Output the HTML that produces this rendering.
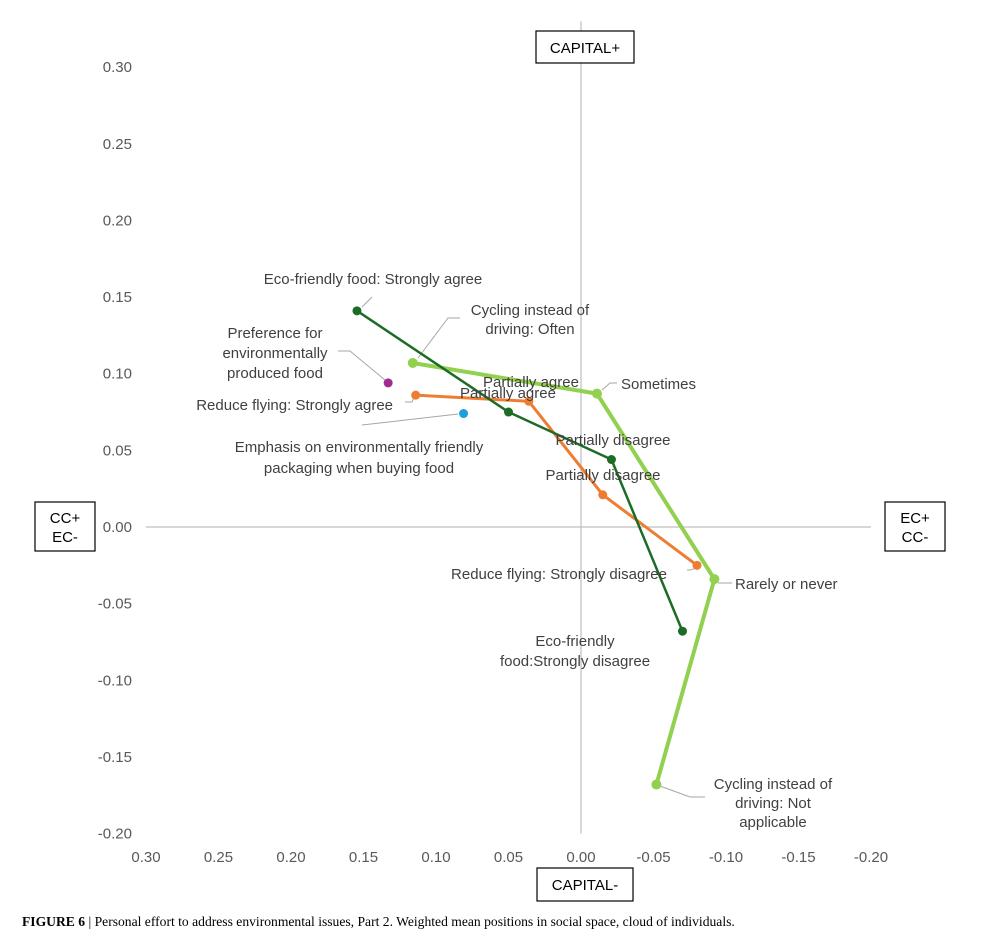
<!DOCTYPE html>
<html><head><meta charset="utf-8"><style>
body{margin:0;background:#fff;}
svg text{font-family:"Liberation Sans",sans-serif;}
</style></head><body>
<svg id="chart" width="1000" height="940" viewBox="0 0 1000 940" xmlns="http://www.w3.org/2000/svg">
<g id="axes"></g>
<g id="leaders" stroke="#a6a6a6" stroke-width="1" fill="none"></g>
<g id="series"></g>
<g id="labels" font-size="15" fill="#404040"></g>
<g><rect x="536" y="31" width="98" height="32" fill="#fff" stroke="#000" stroke-width="1.2"/><text x="585" y="53" text-anchor="middle" font-size="15">CAPITAL+</text></g>
<g><rect x="537" y="868" width="96" height="33" fill="#fff" stroke="#000" stroke-width="1.2"/><text x="585" y="890" text-anchor="middle" font-size="15">CAPITAL-</text></g>
<g><rect x="35" y="502" width="60" height="49" fill="#fff" stroke="#000" stroke-width="1.2"/><text x="65" y="523" text-anchor="middle" font-size="15">CC+</text><text x="65" y="542" text-anchor="middle" font-size="15">EC-</text></g>
<g><rect x="885" y="502" width="60" height="49" fill="#fff" stroke="#000" stroke-width="1.2"/><text x="915" y="523" text-anchor="middle" font-size="15">EC+</text><text x="915" y="542" text-anchor="middle" font-size="15">CC-</text></g>
<text x="22" y="926" font-size="13.6" style="font-family:'Liberation Serif',serif"><tspan font-weight="bold">FIGURE 6</tspan>  |  Personal effort to address environmental issues, Part 2. Weighted mean positions in social space, cloud of individuals.</text>
</svg>
<script>
const xTicks=[0.30,0.25,0.20,0.15,0.10,0.05,0.00,-0.05,-0.10,-0.15,-0.20];
const yTicks=[0.30,0.25,0.20,0.15,0.10,0.05,0.00,-0.05,-0.10,-0.15,-0.20];
const ecoX=[0.1545,0.050,-0.021,-0.070];
const ecoY=[0.141,0.075,0.044,-0.068];
const cycX=[0.116,-0.011,-0.092,-0.052];
const cycY=[0.107,0.087,-0.034,-0.168];
const flyX=[0.114,0.036,-0.015,-0.080];
const flyY=[0.086,0.082,0.021,-0.025];
const prefX=[0.133];const prefY=[0.094];
const packX=[0.081];const packY=[0.074];
const NS='http://www.w3.org/2000/svg';
function sx(v){return 581-v*1450;}
function sy(v){return 527-v*1533;}
function mk(tag,attrs,parent){const e=document.createElementNS(NS,tag);for(const k in attrs)e.setAttribute(k,attrs[k]);parent.appendChild(e);return e;}
const axes=document.getElementById('axes');
let l=mk('line',{x1:sx(0.30),x2:sx(-0.20),y1:sy(0),y2:sy(0),stroke:'#bfbfbf','stroke-width':1.2},axes);


l=mk('line',{x1:sx(0),x2:sx(0),y1:sy(0.33),y2:sy(-0.20),stroke:'#bfbfbf','stroke-width':1.2},axes);


xTicks.forEach(v=>{const t=mk('text',{x:sx(v),y:862,'text-anchor':'middle','font-size':15,fill:'#595959'},axes);t.textContent=v.toFixed(2);

});
yTicks.forEach(v=>{const t=mk('text',{x:132,y:sy(v)+5,'text-anchor':'end','font-size':15,fill:'#595959'},axes);t.textContent=v.toFixed(2);

});
const series=document.getElementById('series');
function drawSeries(xs,ys,color,w,r,name){
  if(xs.length>1){const p=mk('polyline',{points:xs.map((x,i)=>sx(x)+','+sy(ys[i])).join(' '),fill:'none',stroke:color,'stroke-width':w},series);
  
  }
  xs.forEach((x,i)=>{const c=mk('circle',{cx:sx(x),cy:sy(ys[i]),r:r,fill:color},series);
  
  });
}
drawSeries(cycX,cycY,'#92d050',4,5,'cycling');
drawSeries(flyX,flyY,'#ed7d31',3,4.5,'reduce-flying');
drawSeries(ecoX,ecoY,'#1e6b26',2.5,4.5,'eco-food');
drawSeries(prefX,prefY,'#a02b93',0,4.5,'preference-env-food');
drawSeries(packX,packY,'#1aa0dc',0,4.5,'packaging');
const labels=[
 ['Eco-friendly food: Strongly agree',373,284,'middle'],
 ['Cycling instead of',530,315,'middle'],['driving: Often',530,334,'middle'],
 ['Preference for',275,338,'middle'],['environmentally',275,358,'middle'],['produced food',275,378,'middle'],
 ['Reduce flying: Strongly agree',393,410,'end'],
 ['Partially agree',531,387,'middle'],['Partially agree',508,398,'middle'],
 ['Sometimes',621,389,'start'],
 ['Emphasis on environmentally friendly',359,452,'middle'],['packaging when buying food',359,473,'middle'],
 ['Partially disagree',613,445,'middle'],['Partially disagree',603,480,'middle'],
 ['Reduce flying: Strongly disagree',559,579,'middle'],
 ['Rarely or never',735,589,'start'],
 ['Eco-friendly',575,646,'middle'],['food:Strongly disagree',575,666,'middle'],
 ['Cycling instead of',773,789,'middle'],['driving: Not',773,808,'middle'],['applicable',773,827,'middle']
];
const lg=document.getElementById('labels');
labels.forEach(a=>{const t=mk('text',{x:a[1],y:a[2],'text-anchor':a[3]},lg);t.textContent=a[0];

});
const leaders=[
 '362,307 372,297','418,358 448,318 460,318','338,351 350,351 385,380','405,402 412,402 414,397',
 '362,425 458,414','602,390 610,383 617,383','700,567 690,570 687,570','718,583 732,583','660,786 690,797 705,797'
];
const ld=document.getElementById('leaders');
leaders.forEach(p=>{const e=mk('polyline',{points:p},ld);

});
</script>
</body></html>
